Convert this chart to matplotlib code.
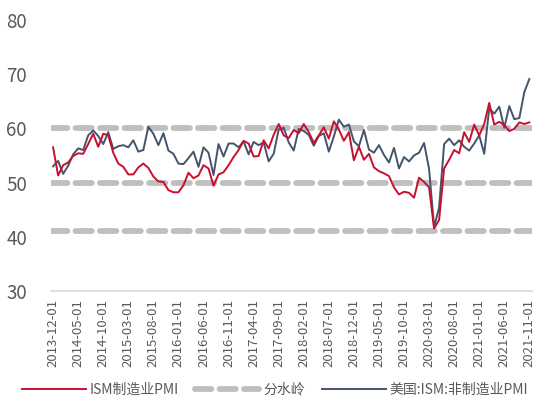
import matplotlib
matplotlib.use("Agg")
import matplotlib.pyplot as plt
import numpy as np
import pandas as pd

plt.rcParams['font.family'] = ['Noto Sans CJK SC', 'DejaVu Sans']

# monthly categories, 2013-12 .. 2021-11
dates = pd.date_range('2013-12-01', periods=96, freq='MS')
labels = [d.strftime('%Y-%m-%d') for d in dates]

# ISM manufacturing PMI
ism_mfg = [
    56.5,
    51.3, 53.2, 53.7, 54.9, 55.4, 55.3, 57.1, 59.0, 56.6, 59.0, 58.7, 55.5,
    53.5, 52.9, 51.5, 51.5, 52.8, 53.5, 52.7, 51.1, 50.2, 50.1, 48.6, 48.2,
    48.2, 49.5, 51.8, 50.8, 51.3, 53.2, 52.6, 49.4, 51.5, 51.9, 53.2, 54.7,
    56.0, 57.7, 57.2, 54.8, 54.9, 57.8, 56.3, 58.8, 60.8, 58.7, 58.2, 59.7,
    59.1, 60.8, 59.3, 57.3, 58.7, 60.2, 58.1, 61.3, 59.8, 57.7, 59.3, 54.1,
    56.6, 54.2, 55.3, 52.8, 52.1, 51.7, 51.2, 49.1, 47.8, 48.3, 48.1, 47.2,
    50.9, 50.1, 49.1, 41.5, 43.1, 52.6, 54.2, 56.0, 55.4, 59.3, 57.5, 60.7,
    58.7, 60.8, 64.7, 60.7, 61.2, 60.6, 59.5, 59.9, 61.1, 60.8, 61.1,
]

# ISM non-manufacturing PMI
ism_nonmfg = [
    53.0,
    54.0, 51.6, 53.1, 55.2, 56.3, 56.0, 58.7, 59.6, 58.6, 57.1, 59.3, 56.2,
    56.7, 56.9, 56.5, 57.8, 55.7, 56.0, 60.3, 59.0, 56.9, 59.1, 55.9, 55.3,
    53.5, 53.4, 54.5, 55.7, 52.9, 56.5, 55.5, 51.4, 57.1, 54.8, 57.2, 57.2,
    56.5, 57.6, 55.2, 57.5, 56.9, 57.4, 53.9, 55.3, 59.8, 60.1, 57.4, 55.9,
    59.9, 59.5, 58.8, 56.8, 58.6, 59.1, 55.7, 58.5, 61.6, 60.3, 60.7, 57.6,
    56.7, 59.7, 56.1, 55.5, 56.9, 55.1, 53.7, 56.4, 52.6, 54.7, 53.9, 55.0,
    55.5, 57.3, 52.5, 41.8, 45.4, 57.1, 58.1, 56.9, 57.8, 56.6, 55.9, 57.2,
    58.7, 55.3, 63.7, 62.7, 64.0, 60.1, 64.1, 61.7, 61.9, 66.7, 69.1,
]

# watershed levels
watershed = [60, 50, 41]

red = '#C8102E'
navy = '#44546A'
dash_gray = '#BFBFBF'
text_gray = '#595959'

fig = plt.figure(figsize=(5.5, 4.08), dpi=100)
ax = fig.add_axes([0.092, 0.287, 0.875, 0.664])

x = np.arange(len(dates))

for i, lvl in enumerate(watershed):
    ax.axhline(lvl, color=dash_gray, lw=4.2, dashes=(2.8, 1.4),
               dash_capstyle='round', label='分水岭' if i == 0 else None, zorder=1)

ax.plot(x, ism_mfg, color=red, lw=1.4, label='ISM制造业PMI', zorder=3)
ax.plot(x, ism_nonmfg, color=navy, lw=1.4, label='美国:ISM:非制造业PMI', zorder=2)

ax.set_xlim(-0.5, len(dates) - 0.5)
ax.set_ylim(30, 80)
ax.set_yticks([30, 40, 50, 60, 70, 80])
ax.set_xticks(x[::5])
ax.set_xticklabels(labels[::5], rotation=90)

for s in ['top', 'right', 'left']:
    ax.spines[s].set_visible(False)
ax.spines['bottom'].set_color('#D9D9D9')
ax.spines['bottom'].set_linewidth(1.2)

ax.tick_params(axis='y', length=0, pad=17, labelsize=13.5, labelcolor=text_gray)
ax.tick_params(axis='x', length=0, pad=6, labelsize=9.5, labelcolor=text_gray)

# legend order as in the reference
handles, lbls = ax.get_legend_handles_labels()
order = [lbls.index('ISM制造业PMI'), lbls.index('分水岭'), lbls.index('美国:ISM:非制造业PMI')]
leg = fig.legend([handles[i] for i in order], [lbls[i] for i in order],
                 loc='center', bbox_to_anchor=(0.5, 0.045), ncol=3, frameon=False,
                 fontsize=10, handlelength=4.6, columnspacing=1.2, handletextpad=0.3)
for t in leg.get_texts():
    t.set_color(text_gray)

fig.savefig('out.png', dpi=100)
